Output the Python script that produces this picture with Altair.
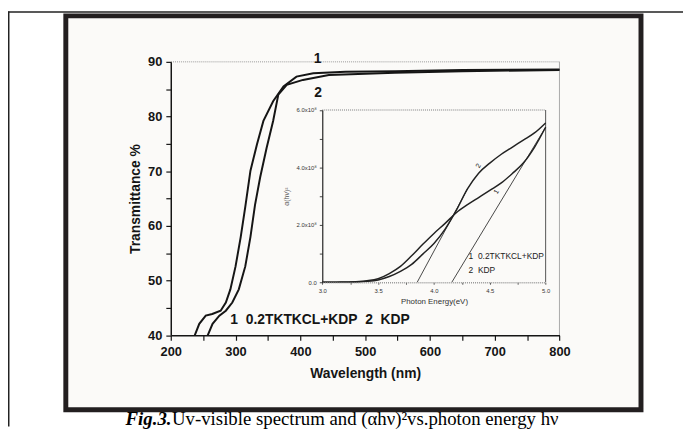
import altair as alt
import pandas as pd

# ---------------- data ----------------
# Main UV-vis transmittance curves
wl_1 = [237, 244, 254, 264, 277, 285, 292, 300, 308, 315, 323, 333, 343, 358, 374, 394, 420, 470, 546, 650, 800]
tr_1 = [40.0, 42.1, 43.6, 43.9, 44.5, 46.0, 48.4, 52.6, 58.0, 63.5, 70.1, 74.9, 79.2, 82.8, 85.5, 87.3, 87.9, 88.2, 88.3, 88.5, 88.6]
wl_2 = [257, 264.5, 275, 285, 295, 305, 315, 323, 330, 338, 348, 358, 366, 379, 404, 444, 546, 650, 800]
tr_2 = [40.0, 42.1, 43.6, 44.5, 46.0, 48.4, 52.6, 58.0, 63.8, 68.9, 74.3, 79.2, 84.0, 85.8, 86.7, 87.6, 88.0, 88.3, 88.5]

# Inset (alpha h nu)^2 vs photon energy
ev = [3.0, 3.1, 3.2, 3.3, 3.4, 3.5, 3.6, 3.7, 3.8, 3.9, 4.0, 4.1, 4.2, 4.3, 4.4, 4.5, 4.6, 4.7, 4.8, 4.9, 5.0]
ah_1 = [0.0, 0.0, 0.01, 0.02, 0.05, 0.12, 0.3, 0.55, 0.92, 1.32, 1.7, 2.05, 2.42, 2.7, 2.95, 3.2, 3.45, 3.78, 4.15, 4.7, 5.4]
ah_2 = [0.0, 0.0, 0.0, 0.01, 0.03, 0.08, 0.2, 0.38, 0.62, 0.98, 1.35, 1.85, 2.5, 3.25, 3.8, 4.15, 4.45, 4.7, 4.95, 5.2, 5.55]

# Tangent (band-gap extrapolation) lines
tan_name = ["a", "a", "b", "b"]
tan_ev = [4.16, 5.0, 3.85, 4.3]
tan_ah = [0.0, 5.4, 0.0, 3.25]

x_ticks = [200, 250, 300, 350, 400, 450, 500, 550, 600, 650, 700, 750, 800]
y_ticks = [40, 45, 50, 55, 60, 65, 70, 75, 80, 85, 90]
ix_ticks = [3.0, 3.25, 3.5, 3.75, 4.0, 4.25, 4.5, 4.75, 5.0]
iy_ticks = [0, 1, 2, 3, 4, 5, 6]

NB = "\u00a0"

# ---------------- geometry ----------------
W, H = 393.3, 276.7          # main plot area
PL, PT = 164.7, 52           # padding so plot origin lands at page (172.7, 60)
X0, Y0 = 172.7, 60           # page position of plot origin
SANS = "Liberation Sans"
INK = "#151515"

main_df = pd.concat([
    pd.DataFrame({"wl": wl_1, "t": tr_1, "s": "1"}),
    pd.DataFrame({"wl": wl_2, "t": tr_2, "s": "2"}),
])
inset_df = pd.concat([
    pd.DataFrame({"e": ev, "a": ah_1, "s": "1"}),
    pd.DataFrame({"e": ev, "a": ah_2, "s": "2"}),
])
tan_df = pd.DataFrame({"n": tan_name, "e": tan_ev, "a": tan_ah})
one = pd.DataFrame({"k": [0]})

xs = alt.Scale(domain=[200, 800], nice=False, zero=False)
ys = alt.Scale(domain=[40, 90], nice=False, zero=False)
ixs = alt.Scale(domain=[3.0, 5.0], nice=False, zero=False, range=[326 - X0, 552 - X0])
iys = alt.Scale(domain=[0, 6], nice=False, zero=False, range=[283 - Y0, 108.7 - Y0])

x_axis = alt.Axis(
    orient="bottom", values=x_ticks, zindex=2,
    labelExpr="datum.value % 100 == 0 ? datum.value : ''",
    title="Wavelength (nm)", titleFont=SANS, titleFontSize=14, titleFontWeight="bold",
    titleColor=INK, titlePadding=9,
    labelFont=SANS, labelFontSize=13, labelFontWeight="bold", labelColor=INK,
    labelPadding=5, labelFlush=False, labelOverlap=False,
    domainColor=INK, domainWidth=1.5, tickColor=INK, tickWidth=1.2, tickSize=5, grid=False)
y_axis = alt.Axis(
    orient="left", values=y_ticks, zindex=2,
    labelExpr="datum.value % 10 == 0 ? datum.value : ''",
    title="Transmittance %", titleFont=SANS, titleFontSize=14, titleFontWeight="bold",
    titleColor=INK, titlePadding=5,
    labelFont=SANS, labelFontSize=13, labelFontWeight="bold", labelColor=INK,
    labelPadding=4, labelFlush=False, labelOverlap=False,
    domainColor=INK, domainWidth=1.5, tickColor=INK, tickWidth=1.2, tickSize=5, grid=False)
ix_axis = alt.Axis(
    orient="bottom", offset=-(336.7 - 283), values=ix_ticks, zindex=2,
    labelExpr="(datum.value * 2) % 1 == 0 ? format(datum.value, '.1f') : ''",
    title="Photon Energy(eV)", titleFont=SANS, titleFontSize=8, titleFontWeight="normal",
    titleColor="#333", titlePadding=5,
    labelFont=SANS, labelFontSize=6, labelColor="#333", labelPadding=3,
    labelFlush=False, labelOverlap=False,
    domainColor="#999", domainWidth=1.5, domainDash=[1, 1],
    tickColor="#555", tickWidth=1, tickSize=2, grid=False)
iy_axis = alt.Axis(
    orient="left", offset=-(326 - X0), values=iy_ticks, zindex=2,
    labelExpr="datum.value % 2 == 0 ? (datum.value == 0 ? '0.0' : format(datum.value, '.1f') + 'x10⁸') : ''",
    title="α(hν)²", titleFont=SANS, titleFontSize=7, titleFontWeight="normal",
    titleColor="#555", titlePadding=7,
    labelFont=SANS, labelFontSize=6, labelColor="#333", labelPadding=3,
    labelFlush=False, labelOverlap=False,
    domainColor="#222", domainWidth=1.2, tickColor="#444", tickWidth=1, tickSize=3, grid=False)

# ---------------- decoration ----------------
frame = alt.Chart(one).mark_rect(fill="#fbfaf8", stroke="#231f20", strokeWidth=5).encode(
    x=alt.value(66.5 - X0), x2=alt.value(648.5 - X0),
    y=alt.value(13.5 - Y0), y2=alt.value(412 - Y0))
top_line = alt.Chart(one).mark_rule(color="#222", strokeWidth=1.5).encode(
    x=alt.value(8 - X0), x2=alt.value(691 - X0), y=alt.value(9.5 - Y0))
left_line = alt.Chart(one).mark_rule(color="#222", strokeWidth=1.5).encode(
    x=alt.value(8.75 - X0), y=alt.value(9 - Y0), y2=alt.value(429 - Y0))

# ---------------- main chart ----------------
main_lines = alt.Chart(main_df).mark_line(color=INK, strokeWidth=2).encode(
    x=alt.X("wl:Q", scale=xs, axis=x_axis),
    y=alt.Y("t:Q", scale=ys, axis=y_axis),
    detail="s:N",
)
main_top = alt.Chart(one).mark_rule(color="#999", strokeWidth=1, strokeDash=[1, 1]).encode(
    y=alt.Y(datum=90, scale=ys, axis=y_axis))
main_right = alt.Chart(one).mark_rule(color="#aaa", strokeWidth=1).encode(
    x=alt.X(datum=800, scale=xs, axis=x_axis))
lab_df = pd.DataFrame({"wl": [420.6, 421.5, 292], "t": [90.6, 84.3, 42.8],
                       "txt": ["1", "2", f"1{NB}{NB}0.2TKTKCL+KDP{NB}{NB}2{NB}{NB}KDP"]})
main_labels = alt.Chart(lab_df).mark_text(
    font=SANS, fontSize=14, fontWeight="bold", color=INK, align="left", baseline="middle").encode(
    x=alt.X("wl:Q", scale=xs, axis=x_axis), y=alt.Y("t:Q", scale=ys, axis=y_axis), text="txt:N")

main = alt.layer(main_top, main_right, main_lines, main_labels)

# ---------------- inset ----------------
inset_lines = alt.Chart(inset_df).mark_line(color="#222", strokeWidth=1.5, interpolate="monotone").encode(
    x=alt.X("e:Q", scale=ixs, axis=ix_axis),
    y=alt.Y("a:Q", scale=iys, axis=iy_axis),
    detail="s:N",
)
inset_tan = alt.Chart(tan_df).mark_line(color="#333", strokeWidth=0.9).encode(
    x=alt.X("e:Q", scale=ixs, axis=ix_axis), y=alt.Y("a:Q", scale=iys, axis=iy_axis), detail="n:N")
inset_top = alt.Chart(one).mark_rule(color="#bbb", strokeWidth=2, strokeDash=[1, 1]).encode(
    x=alt.X(datum=3.0, scale=ixs, axis=ix_axis), x2=alt.X2(datum=5.0),
    y=alt.Y(datum=6, scale=iys, axis=iy_axis))
inset_right = alt.Chart(one).mark_rule(color="#555", strokeWidth=1).encode(
    x=alt.X(datum=5.0, scale=ixs, axis=ix_axis),
    y=alt.Y(datum=0, scale=iys, axis=iy_axis), y2=alt.Y2(datum=6))
ilab_df = pd.DataFrame({"e": [4.31, 4.31], "a": [0.91, 0.42],
                        "txt": [f"1{NB}{NB}0.2TKTKCL+KDP", f"2{NB}{NB}KDP"]})
inset_legend = alt.Chart(ilab_df).mark_text(
    font=SANS, fontSize=8.5, color="#222", align="left", baseline="middle").encode(
    x=alt.X("e:Q", scale=ixs, axis=ix_axis), y=alt.Y("a:Q", scale=iys, axis=iy_axis), text="txt:N")
icl_df = pd.DataFrame({"e": [4.40, 4.56], "a": [4.05, 3.15], "txt": ["2", "1"]})
inset_clabels = alt.Chart(icl_df).mark_text(
    font=SANS, fontSize=7, color="#222", align="center", baseline="middle", angle=300).encode(
    x=alt.X("e:Q", scale=ixs, axis=ix_axis), y=alt.Y("a:Q", scale=iys, axis=iy_axis), text="txt:N")

inset = alt.layer(inset_top, inset_right, inset_tan, inset_lines, inset_legend, inset_clabels)

# ---------------- caption ----------------
cap1 = alt.Chart(one).mark_text(
    text="Fig.3.", font="Liberation Serif", fontSize=19, fontWeight="bold", fontStyle="italic",
    color="#000", align="left", baseline="alphabetic").encode(
    x=alt.value(127 - X0), y=alt.value(427 - Y0))
cap2 = alt.Chart(one).mark_text(
    text="Uv-visible spectrum and (αhν)²vs.photon energy hν", font="Liberation Serif", fontSize=19,
    color="#000", align="left", baseline="alphabetic").encode(
    x=alt.value(174 - X0), y=alt.value(427 - Y0))

chart = alt.layer(frame, top_line, left_line, main, inset, cap1, cap2).resolve_scale(
    x="independent", y="independent"
).properties(
    width=W, height=H,
    padding={"left": PL, "top": PT, "right": 683 - PL - W, "bottom": 421 - PT - H},
    autosize=alt.AutoSizeParams(type="none"),
    background="white",
).configure_view(stroke=None)

chart.save("out.html", embed_options={"renderer": "svg", "actions": False})
